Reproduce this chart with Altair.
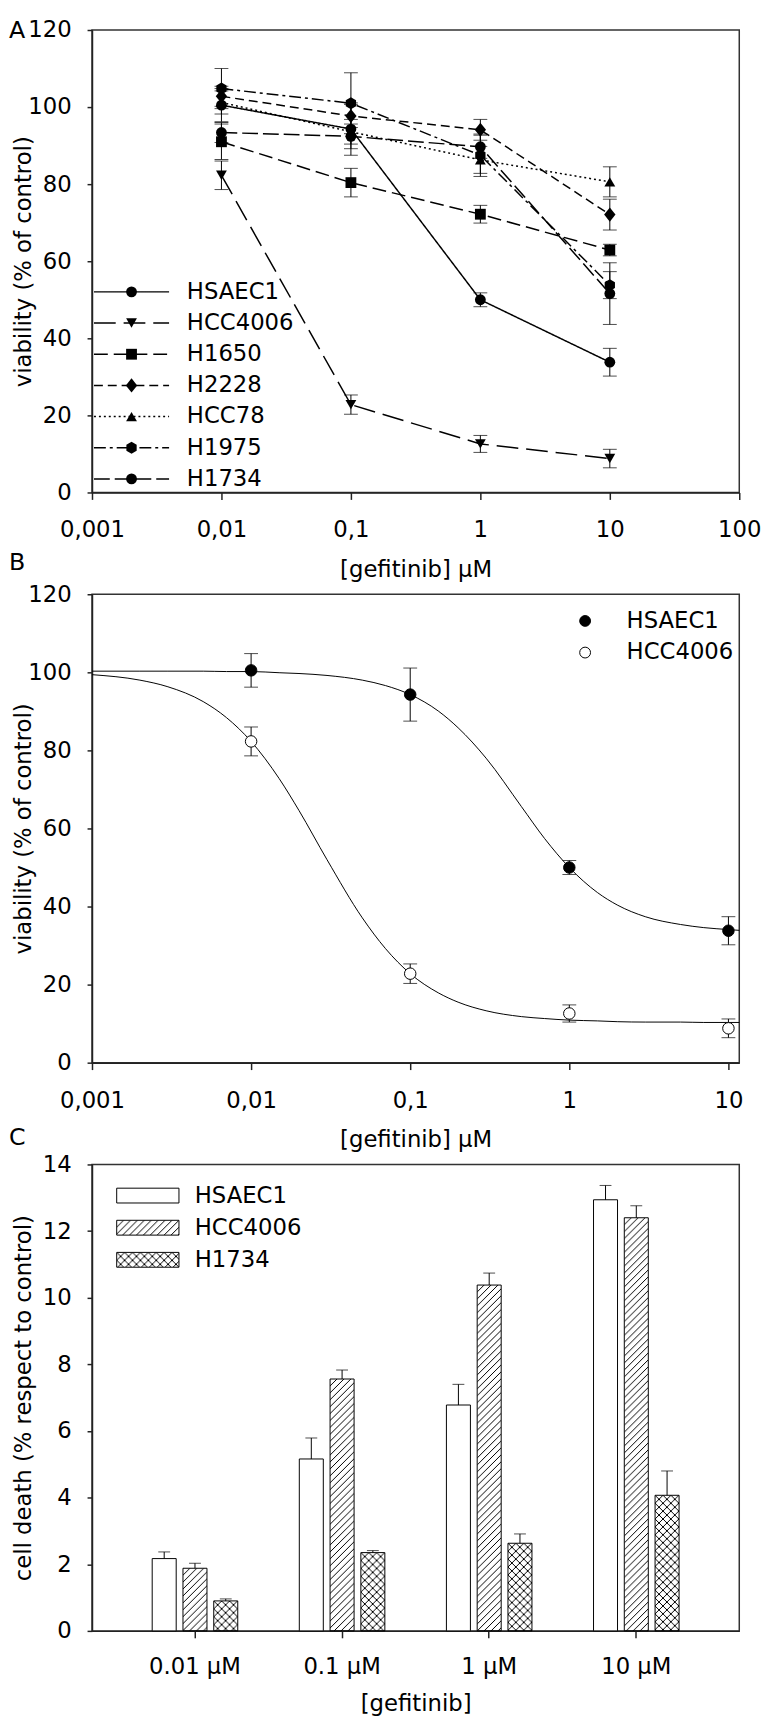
import base64
import altair as alt
import pandas as pd

FONT = "DejaVu Sans"
FS = 23

# ---------------- Panel A data ----------------
conc = [0.01, 0.1, 1, 10]
series_a = ["HSAEC1", "HCC4006", "H1650", "H2228", "HCC78", "H1975", "H1734"]
hsaec1 = [100.5, 94.3, 50.0, 33.8]
hsaec1_err = [4.3, 6.8, 1.8, 3.6]
hcc4006 = [82.3, 22.8, 12.6, 8.8]
hcc4006_err = [3.7, 2.5, 2.2, 2.4]
h1650 = [91.0, 80.4, 72.2, 62.9]
h1650_err = [4.6, 3.7, 2.3, 1.5]
h2228 = [102.8, 97.7, 94.1, 72.1]
h2228_err = [2.6, 3.0, 2.7, 4.0]
hcc78 = [101.2, 93.6, 86.3, 80.6]
hcc78_err = [3.0, 3.2, 3.5, 3.9]
h1975 = [104.8, 101.0, 87.5, 53.8]
h1975_err = [5.2, 7.9, 5.5, 3.5]
h1734 = [93.4, 92.4, 89.7, 51.6]
h1734_err = [2.6, 3.2, 3.0, 8.0]
x_ticks_a = [0.001, 0.01, 0.1, 1, 10, 100]
y_ticks_ab = [0, 20, 40, 60, 80, 100, 120]

# ---------------- Panel B data ----------------
series_b = ["HSAEC1", "HCC4006"]
x_ticks_b = [0.001, 0.01, 0.1, 1, 10]
curve_x = [0.001, 0.002, 0.003, 0.005, 0.007, 0.01, 0.015, 0.02, 0.03, 0.05, 0.07,
           0.1, 0.15, 0.2, 0.3, 0.5, 0.7, 1, 1.5, 2, 3, 5, 7, 10, 11.7]
fit_hsaec1 = [100.3, 100.3, 100.3, 100.3, 100.2, 100.2, 99.9, 99.7, 99.2, 98.0, 96.6,
              94.3, 90.1, 85.8, 78.0, 65.6, 57.4, 50.0, 43.6, 40.4, 37.4, 35.4, 34.6, 34.1, 33.9]
fit_hcc4006 = [99.4, 98.0, 96.3, 92.5, 88.4, 82.3, 72.8, 64.6, 52.0, 37.1, 29.2,
               22.8, 17.9, 15.5, 13.3, 11.8, 11.3, 10.9, 10.7, 10.5, 10.4, 10.4, 10.3, 10.3, 10.3]

# ---------------- Panel C data ----------------
doses = ["0.01 µM", "0.1 µM", "1 µM", "10 µM"]
series_c = ["HSAEC1", "HCC4006", "H1734"]
death_hsaec1 = [2.17, 5.16, 6.78, 12.94]
death_hsaec1_err = [0.20, 0.63, 0.62, 0.43]
death_hcc4006 = [1.88, 7.56, 10.38, 12.40]
death_hcc4006_err = [0.15, 0.27, 0.36, 0.36]
death_h1734 = [0.90, 2.35, 2.63, 4.07]
death_h1734_err = [0.06, 0.06, 0.28, 0.73]
y_ticks_c = [0, 2, 4, 6, 8, 10, 12, 14]

# ---------------- tables ----------------
vals_a = {"HSAEC1": (hsaec1, hsaec1_err), "HCC4006": (hcc4006, hcc4006_err),
          "H1650": (h1650, h1650_err), "H2228": (h2228, h2228_err),
          "HCC78": (hcc78, hcc78_err), "H1975": (h1975, h1975_err),
          "H1734": (h1734, h1734_err)}
rows = []
for s in series_a:
    v, e = vals_a[s]
    for c, val, er in zip(conc, v, e):
        rows.append({"conc": c, "series": s, "v": val, "lo": val - er, "hi": val + er})
df_a = pd.DataFrame(rows)
df_b_pts = df_a[df_a["series"].isin(series_b)].reset_index(drop=True)
df_b_fit = pd.DataFrame(
    [{"conc": x, "series": "HSAEC1", "v": y} for x, y in zip(curve_x, fit_hsaec1)]
    + [{"conc": x, "series": "HCC4006", "v": y} for x, y in zip(curve_x, fit_hcc4006)])

vals_c = {"HSAEC1": (death_hsaec1, death_hsaec1_err),
          "HCC4006": (death_hcc4006, death_hcc4006_err),
          "H1734": (death_h1734, death_h1734_err)}
rows = []
for s in series_c:
    v, e = vals_c[s]
    for d, val, er in zip(doses, v, e):
        rows.append({"dose": d, "series": s, "v": val, "hi": val + er, "zero": 0})
df_c = pd.DataFrame(rows)

# ---------------- styles ----------------
HEX = "M0,-1.1L0.95,-0.55L0.95,0.55L0,1.1L-0.95,0.55L-0.95,-0.55Z"
DIAM = "M0,-1.3L1.05,0L0,1.3L-1.05,0Z"
dash_scale = alt.Scale(domain=series_a,
                       range=[[1, 0], [22, 8], [14, 6], [9, 5], [2, 3], [12, 4, 3, 4], [16, 5]])
shape_scale = alt.Scale(domain=series_a,
                        range=["circle", "triangle-down", "square", DIAM, "triangle-up", HEX, "circle"])

def b64svg(s):
    return "data:image/svg+xml;base64," + base64.b64encode(s.encode()).decode()

HATCH = b64svg(
    '<svg xmlns="http://www.w3.org/2000/svg" width="100%" height="100%">'
    '<defs><pattern id="h" width="7" height="7" patternUnits="userSpaceOnUse">'
    '<path d="M-1,1 L1,-1 M0,7 L7,0 M6,8 L8,6" stroke="black" stroke-width="1"/>'
    '</pattern></defs><rect width="100%" height="100%" fill="url(#h)"/></svg>')
CROSS = b64svg(
    '<svg xmlns="http://www.w3.org/2000/svg" width="100%" height="100%">'
    '<defs><pattern id="c" width="8" height="8" patternUnits="userSpaceOnUse">'
    '<path d="M-1,-1 L9,9 M-1,9 L9,-1" stroke="black" stroke-width="1"/>'
    '</pattern></defs><rect width="100%" height="100%" fill="url(#c)"/></svg>')
URL_EXPR = f"datum.series == 'HCC4006' ? '{HATCH}' : '{CROSS}'"

AX = dict(grid=False, domainColor="#222", tickColor="#222", domainWidth=1.5, tickWidth=1.5,
          labelFont=FONT, labelFontSize=FS, labelColor="black", titleFont=FONT,
          titleFontSize=FS, titleFontWeight="normal", titleColor="black")

def y_axis(vals, title):
    return alt.Axis(values=vals, title=title, tickSize=5, labelPadding=16, titlePadding=12,
                    minExtent=45, maxExtent=45, **AX)

def x_log_axis(vals, title):
    return alt.Axis(values=vals, title=title, tickSize=7, labelPadding=20, titlePadding=17,
                    labelExpr="replace(toString(datum.value), '.', ',')",
                    labelFlush=False, labelOverlap=False, **AX)

W = 655

def letter(ch, y, baseline):
    return alt.Chart(pd.DataFrame({"t": [ch]})).mark_text(
        font=FONT, fontSize=24, align="left", baseline=baseline, color="black"
    ).encode(text="t:N", x=alt.value(-84), y=alt.value(y))

# ---------------- Panel A ----------------
X_A = alt.X("conc:Q", scale=alt.Scale(type="log", domain=[0.001, 100], nice=False),
            axis=x_log_axis(x_ticks_a, "[gefitinib] µM"))
Y_A = alt.Y("v:Q", scale=alt.Scale(domain=[0, 120], nice=False),
            axis=y_axis(y_ticks_ab, "viability (% of control)"))
base_a = alt.Chart(df_a)
a_lines = base_a.mark_line(color="black", strokeWidth=1.5).encode(
    x=X_A, y=Y_A, strokeDash=alt.StrokeDash("series:N", scale=dash_scale, legend=None),
    detail="series:N")
a_err = base_a.mark_rule(color="black", strokeWidth=1).encode(x="conc:Q", y="lo:Q", y2="hi:Q")
a_cap1 = base_a.mark_tick(orient="horizontal", size=14, thickness=1, color="black").encode(
    x="conc:Q", y="lo:Q")
a_cap2 = base_a.mark_tick(orient="horizontal", size=14, thickness=1, color="black").encode(
    x="conc:Q", y="hi:Q")
a_pts = base_a.mark_point(filled=True, color="black", size=120, opacity=1).encode(
    x="conc:Q", y="v:Q", shape=alt.Shape("series:N", scale=shape_scale, legend=None))
main_a = alt.layer(a_lines, a_err, a_cap1, a_cap2, a_pts)

leg_a = alt.Chart(pd.DataFrame({"series": series_a, "idx": list(range(len(series_a)))})
                  ).transform_calculate(ly="265 + datum.idx * 31.55")
LY = alt.Y("ly:Q", scale=None, axis=None)
la_lines = leg_a.mark_rule(color="black", strokeWidth=1.5).encode(
    x=alt.value(2), x2=alt.value(78), y=LY,
    strokeDash=alt.StrokeDash("series:N", scale=dash_scale, legend=None))
la_pts = leg_a.mark_point(filled=True, color="black", size=120, opacity=1).encode(
    x=alt.value(40), y=LY, shape=alt.Shape("series:N", scale=shape_scale, legend=None))
la_txt = leg_a.mark_text(align="left", baseline="middle", font=FONT, fontSize=FS,
                         color="black").encode(x=alt.value(96), y=LY, text="series:N")
panel_a = alt.layer(main_a, alt.layer(la_lines, la_pts, la_txt, letter("A", -11, "top"))
                    ).resolve_scale(x="independent", y="independent").properties(width=W, height=468)

# ---------------- Panel B ----------------
X_B = alt.X("conc:Q", scale=alt.Scale(type="log", domain=[0.001, 11.7], nice=False),
            axis=x_log_axis(x_ticks_b, "[gefitinib] µM"))
Y_B = alt.Y("v:Q", scale=alt.Scale(domain=[0, 120], nice=False),
            axis=y_axis(y_ticks_ab, "viability (% of control)"))
fill_b = alt.Scale(domain=series_b, range=["black", "white"])
b_fit = alt.Chart(df_b_fit).mark_line(color="black", strokeWidth=1, interpolate="monotone").encode(
    x=X_B, y=Y_B, detail="series:N")
base_b = alt.Chart(df_b_pts)
b_err = base_b.mark_rule(color="black", strokeWidth=1).encode(x="conc:Q", y="lo:Q", y2="hi:Q")
b_cap1 = base_b.mark_tick(orient="horizontal", size=14, thickness=1, color="black").encode(
    x="conc:Q", y="lo:Q")
b_cap2 = base_b.mark_tick(orient="horizontal", size=14, thickness=1, color="black").encode(
    x="conc:Q", y="hi:Q")
b_pts = base_b.mark_point(filled=True, stroke="black", strokeWidth=1, size=135, opacity=1,
                          shape="circle").encode(
    x="conc:Q", y="v:Q", fill=alt.Fill("series:N", scale=fill_b, legend=None))
main_b = alt.layer(b_fit, b_err, b_cap1, b_cap2, b_pts)

leg_b = alt.Chart(pd.DataFrame({"series": series_b, "idx": [0, 1]})
                  ).transform_calculate(ly="27 + datum.idx * 32")
lb_pts = leg_b.mark_point(filled=True, stroke="black", strokeWidth=1, size=120, opacity=1,
                          shape="circle").encode(
    x=alt.value(499), y=LY, fill=alt.Fill("series:N", scale=fill_b, legend=None))
lb_txt = leg_b.mark_text(align="left", baseline="middle", font=FONT, fontSize=FS,
                         color="black").encode(x=alt.value(541), y=LY, text="series:N")
panel_b = alt.layer(main_b, alt.layer(lb_pts, lb_txt, letter("B", -31.5, "middle"))
                    ).resolve_scale(x="independent", y="independent").properties(width=W, height=474)

# ---------------- Panel C ----------------
X_C = alt.X("dose:N", sort=doses, scale=alt.Scale(paddingInner=0, paddingOuter=0.2),
            axis=alt.Axis(title="[gefitinib]", labelAngle=0, tickSize=7, labelPadding=18,
                          titlePadding=15, **AX))
XO = alt.XOffset("series:N", sort=series_c, scale=alt.Scale(paddingInner=0.22, paddingOuter=1))
Y_C = alt.Y("v:Q", scale=alt.Scale(domain=[0, 14], nice=False),
            axis=y_axis(y_ticks_c, "cell death (% respect to control)"))
base_c = alt.Chart(df_c)
c_img = base_c.transform_filter("datum.series != 'HSAEC1'").transform_calculate(
    url=URL_EXPR).mark_image(aspect=False).encode(
    x=X_C, xOffset=XO, y=Y_C, y2="zero:Q", url="url:N")
c_bar = base_c.mark_bar(stroke="black", strokeWidth=1).encode(
    x=X_C, xOffset=XO, y=Y_C,
    fill=alt.when(alt.datum.series == "HSAEC1").then(alt.value("white")).otherwise(
        alt.value("transparent")))
c_err = base_c.mark_rule(color="black", strokeWidth=1).encode(
    x=X_C, xOffset=XO, y="v:Q", y2="hi:Q")
c_cap = base_c.mark_tick(orient="horizontal", size=12, thickness=1, color="black").encode(
    x=X_C, xOffset=XO, y="hi:Q")
main_c = alt.layer(c_img, c_bar, c_err, c_cap)

leg_c = alt.Chart(pd.DataFrame({"series": series_c, "idx": [0, 1, 2]})).transform_calculate(
    sy="24 + datum.idx * 32.5", sy2="39 + datum.idx * 32.5", ty="31.5 + datum.idx * 32.5")
SY = alt.Y("sy:Q", scale=None, axis=None)
lc_img = leg_c.transform_filter("datum.series != 'HSAEC1'").transform_calculate(
    url=URL_EXPR).mark_image(aspect=False).encode(
    x=alt.value(25), x2=alt.value(88), y=SY, y2="sy2:Q", url="url:N")
lc_box = leg_c.mark_rect(stroke="black", strokeWidth=1).encode(
    x=alt.value(25), x2=alt.value(88), y=SY, y2="sy2:Q",
    fill=alt.when(alt.datum.series == "HSAEC1").then(alt.value("white")).otherwise(
        alt.value("transparent")))
lc_txt = leg_c.mark_text(align="left", baseline="middle", font=FONT, fontSize=FS,
                         color="black").encode(
    x=alt.value(104), y=alt.Y("ty:Q", scale=None, axis=None), text="series:N")
panel_c = alt.layer(main_c, alt.layer(lc_img, lc_box, lc_txt, letter("C", -26.5, "middle"))
                    ).resolve_scale(x="independent", y="independent").properties(width=W, height=472)

chart = alt.vconcat(panel_a, panel_b, panel_c, spacing=103, bounds="flush",
                    padding={"left": 0, "top": 0, "right": 0, "bottom": 0}
                    ).configure(font=FONT).configure_view(stroke="#333", strokeWidth=1.5)

chart.save("out.html", embed_options={"renderer": "svg", "actions": False})
